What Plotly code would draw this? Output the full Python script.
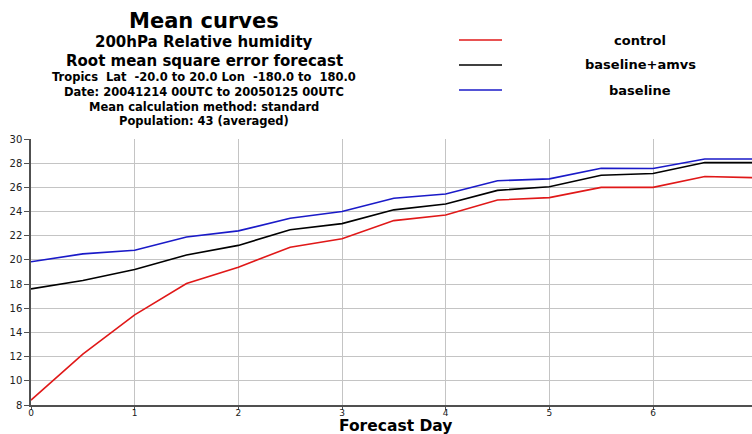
import plotly.graph_objects as go

# Forecast lead time (days) and RMSE of 200hPa relative humidity per experiment
days = [0, 0.5, 1, 1.5, 2, 2.5, 3, 3.5, 4, 4.5, 5, 5.5, 6, 6.5, 7]
control = [8.4, 12.2, 15.45, 18.05, 19.4, 21.05, 21.75, 23.25, 23.72, 24.95, 25.15, 26.0, 26.0, 26.9, 26.8]
baseline_amvs = [17.6, 18.3, 19.2, 20.4, 21.2, 22.5, 23.0, 24.14, 24.63, 25.75, 26.05, 27.0, 27.15, 28.05, 28.05]
baseline = [19.85, 20.5, 20.8, 21.9, 22.4, 23.45, 24.0, 25.1, 25.45, 26.55, 26.7, 27.58, 27.56, 28.35, 28.35]

series_names = ["control", "baseline+amvs", "baseline"]
series_values = [control, baseline_amvs, baseline]
series_colors = ["#e01818", "#000000", "#1a1ac8"]

title_lines = [
    "Mean curves",
    "200hPa Relative humidity",
    "Root mean square error forecast",
    "Tropics\u00a0\u00a0Lat\u00a0 -20.0 to 20.0 Lon\u00a0 -180.0 to\u00a0 180.0",
    "Date: 20041214 00UTC to 20050125 00UTC",
    "Mean calculation method: standard",
    "Population: 43 (averaged)",
]

W, H = 752, 434
ML, MR, MT, MB = 31, 0, 139, 29
PW, PH = W - ML - MR, H - MT - MB


def px_x(x):
    return (x - ML) / PW


def px_y(y):
    return (H - MB - y) / PH


BOLD = "DejaVu Sans"

fig = go.Figure()
for name, vals, col in zip(series_names, series_values, series_colors):
    fig.add_trace(go.Scatter(x=days, y=vals, mode="lines", name=name,
                             line=dict(color=col, width=1.6), showlegend=False))

# Title block
title_y = [21, 42, 61, 77, 92, 107, 121]
title_sz = [21, 15, 15, 11.5, 11.5, 11.5, 11.5]
for txt, y, sz in zip(title_lines, title_y, title_sz):
    fig.add_annotation(text=f"<b>{txt}</b>", x=px_x(204), y=px_y(y), xref="paper", yref="paper",
                       showarrow=False, xanchor="center", yanchor="middle",
                       font=dict(family=BOLD, size=sz, color="black"))

# Legend drawn as swatches + centred labels
leg_y = [40, 65, 90]
for name, col, y in zip(series_names, series_colors, leg_y):
    fig.add_shape(type="line", xref="paper", yref="paper",
                  x0=px_x(459), x1=px_x(502), y0=px_y(y), y1=px_y(y),
                  line=dict(color=col, width=1.6))
    fig.add_annotation(text=f"<b>{name}</b>", x=px_x(640), y=px_y(y), xref="paper", yref="paper",
                       showarrow=False, xanchor="center", yanchor="middle",
                       font=dict(family=BOLD, size=13, color="black"))

# X axis title near the bottom edge of the figure
fig.add_annotation(text="<b>Forecast Day</b>", x=px_x(395), y=px_y(425.5), xref="paper", yref="paper",
                   showarrow=False, xanchor="center", yanchor="middle", borderpad=0,
                   font=dict(family=BOLD, size=15.5, color="black"))

fig.update_xaxes(range=[0, 6.955], tickvals=[0, 1, 2, 3, 4, 5, 6],
                 showgrid=True, gridcolor="#c4c4c4", gridwidth=1,
                 showline=True, linecolor="#505050", linewidth=1.5,
                 ticks="outside", ticklen=3, tickcolor="#505050",
                 ticklabelstandoff=-5,
                 tickfont=dict(family="DejaVu Sans", size=9, color="#202020"),
                 zeroline=False)
fig.update_yaxes(range=[8, 30], tickvals=list(range(8, 31, 2)),
                 showgrid=True, gridcolor="#c4c4c4", gridwidth=1,
                 showline=True, linecolor="#505050", linewidth=1.5,
                 ticks="outside", ticklen=5, tickcolor="#505050",
                 tickfont=dict(family="DejaVu Sans", size=10, color="#202020"),
                 zeroline=False)

fig.update_layout(width=W, height=H, margin=dict(l=ML, r=MR, t=MT, b=MB),
                  plot_bgcolor="white", paper_bgcolor="white", showlegend=False)

fig.write_html("out.html")
